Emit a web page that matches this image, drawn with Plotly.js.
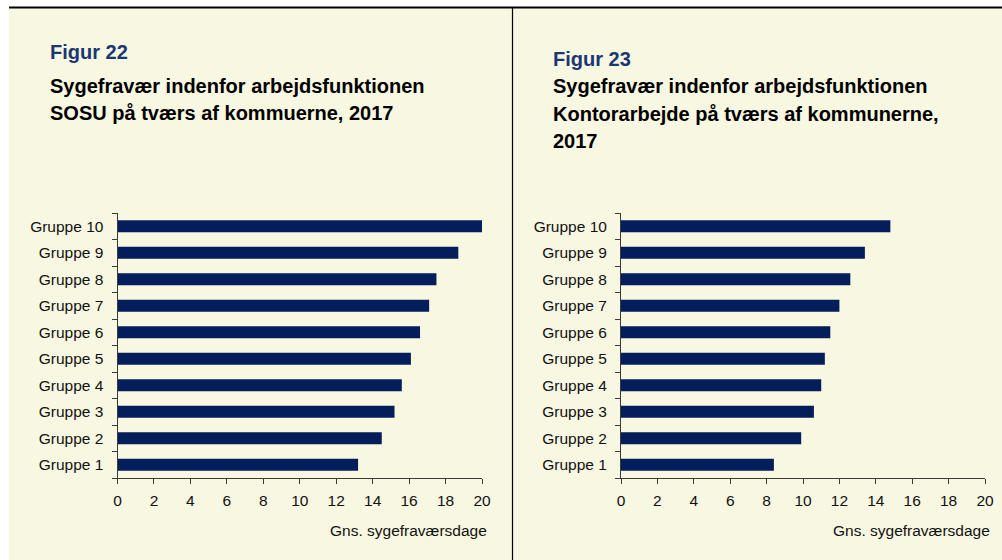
<!DOCTYPE html>
<html>
<head>
<meta charset="utf-8">
<script src="https://cdn.plot.ly/plotly-3.0.1.min.js"></script>
<style>
  html, body { margin: 0; padding: 0; background: #ffffff; }
  #chart { width: 1002px; height: 560px; }
</style>
</head>
<body>
<div id="chart"></div>
<script>
// ---- Data ----
const categories = ['Gruppe 1', 'Gruppe 2', 'Gruppe 3', 'Gruppe 4', 'Gruppe 5',
                    'Gruppe 6', 'Gruppe 7', 'Gruppe 8', 'Gruppe 9', 'Gruppe 10'];
const sosuValues   = [13.2, 14.5, 15.2, 15.6, 16.1, 16.6, 17.1, 17.5, 18.7, 20.0];
const kontorValues = [8.4, 9.9, 10.6, 11.0, 11.2, 11.5, 12.0, 12.6, 13.4, 14.8];
const xTickValues  = [0, 2, 4, 6, 8, 10, 12, 14, 16, 18, 20];

const leftFigLabel  = 'Figur 22';
const leftTitle     = ['Sygefravær indenfor arbejdsfunktionen', 'SOSU på tværs af kommuerne, 2017'];
const rightFigLabel = 'Figur 23';
const rightTitle    = ['Sygefravær indenfor arbejdsfunktionen', 'Kontorarbejde på tværs af kommunerne,', '2017'];
const axisTitleText = 'Gns. sygefraværsdage';

// ---- Layout helpers (pixel -> paper) ----
const W = 1002, H = 560;
const px = v => v / W;
const py = v => 1 - v / H;

const FONT = 'Liberation Sans, Arial, sans-serif';
const BG = '#F8F7E1';
const BAR = '#041D5B';
const AX = '#3a3a3a';
const FIG_BLUE = '#1B3672';

const traces = [
  { type: 'bar', orientation: 'h', y: categories, x: sosuValues,
    xaxis: 'x', yaxis: 'y', marker: { color: BAR, line: { width: 0 } },
    hoverinfo: 'x+y', showlegend: false },
  { type: 'bar', orientation: 'h', y: categories, x: kontorValues,
    xaxis: 'x2', yaxis: 'y2', marker: { color: BAR, line: { width: 0 } },
    hoverinfo: 'x+y', showlegend: false }
];

const xAxisBase = {
  range: [0, 20], tickvals: xTickValues, ticktext: xTickValues.map(String),
  showgrid: false, zeroline: false, showline: true, linecolor: AX, linewidth: 1,
  ticks: 'outside', ticklen: 5, tickcolor: AX, tickwidth: 1,
  tickfont: { family: FONT, size: 15.5, color: '#111' }, ticklabelstandoff: 3,
  fixedrange: true
};
const yAxisBase = {
  type: 'category', categoryorder: 'array', categoryarray: categories,
  range: [-0.5, 9.5],
  showgrid: false, zeroline: false, showline: true, linecolor: AX, linewidth: 1,
  ticks: 'outside', tickson: 'boundaries', ticklen: 5, tickcolor: AX, tickwidth: 1,
  tickfont: { family: FONT, size: 15.5, color: '#111' }, ticklabelstandoff: 10,
  fixedrange: true
};

const yDomain = [py(478), py(213)];

function titleAnn(text, x, y, color, size) {
  return { text: text, xref: 'paper', yref: 'paper', x: px(x), y: py(y),
           xanchor: 'left', yanchor: 'middle', showarrow: false,
           font: { family: FONT, size: size, color: color } };
}

const annotations = [
  titleAnn('<b>' + leftFigLabel + '</b>', 48, 52, FIG_BLUE, 20),
  titleAnn('<b>' + leftTitle[0] + '</b>', 48, 86, '#000', 20),
  titleAnn('<b>' + leftTitle[1] + '</b>', 48, 113, '#000', 20),
  titleAnn('<b>' + rightFigLabel + '</b>', 551, 59, FIG_BLUE, 20),
  titleAnn('<b>' + rightTitle[0] + '</b>', 551, 86, '#000', 20),
  titleAnn('<b>' + rightTitle[1] + '</b>', 551, 114, '#000', 20),
  titleAnn('<b>' + rightTitle[2] + '</b>', 551, 141, '#000', 20),
  { text: axisTitleText, xref: 'paper', yref: 'paper', x: px(489), y: py(530),
    xanchor: 'right', yanchor: 'middle', showarrow: false,
    font: { family: FONT, size: 15.5, color: '#111' } },
  { text: axisTitleText, xref: 'paper', yref: 'paper', x: px(992), y: py(530),
    xanchor: 'right', yanchor: 'middle', showarrow: false,
    font: { family: FONT, size: 15.5, color: '#111' } }
];

const shapes = [
  { type: 'rect', xref: 'paper', yref: 'paper', x0: px(9), x1: 1, y0: 0, y1: py(7),
    fillcolor: BG, line: { width: 0 }, layer: 'below' },
  { type: 'line', xref: 'paper', yref: 'paper', x0: px(9), x1: 1, y0: py(7.5), y1: py(7.5),
    line: { color: '#000', width: 2 }, layer: 'below' },
  { type: 'line', xref: 'paper', yref: 'paper', x0: px(512.5), x1: px(512.5), y0: 0, y1: py(7.5),
    line: { color: '#000', width: 1.2 }, layer: 'below' }
];

const layout = {
  width: W, height: H,
  margin: { l: 0, r: 0, t: 0, b: 0, pad: 0 },
  paper_bgcolor: '#ffffff', plot_bgcolor: 'rgba(0,0,0,0)',
  bargap: 0.55,
  showlegend: false,
  xaxis:  Object.assign({}, xAxisBase, { domain: [px(117.5), px(482)], anchor: 'y' }),
  yaxis:  Object.assign({}, yAxisBase, { domain: yDomain, anchor: 'x' }),
  xaxis2: Object.assign({}, xAxisBase, { domain: [px(621), px(985)], anchor: 'y2' }),
  yaxis2: Object.assign({}, yAxisBase, { domain: yDomain, anchor: 'x2' }),
  annotations: annotations,
  shapes: shapes
};

Plotly.newPlot('chart', traces, layout, { staticPlot: true, displayModeBar: false });
</script>
</body>
</html>
